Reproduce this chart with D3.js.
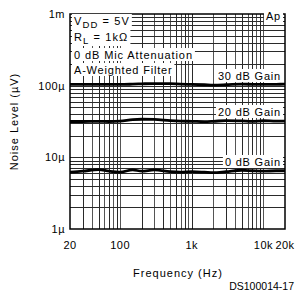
<!DOCTYPE html>
<html><head><meta charset="utf-8">
<script src="https://cdn.jsdelivr.net/npm/d3@7"></script>
<style>body{margin:0;background:#fff}svg{display:block}text{font-family:"Liberation Sans",Arial,sans-serif;fill:#000}</style>
</head><body><svg id="c" width="296" height="294"></svg>
<script>
const freqs = [20,30,50,70,100,150,200,300,500,700,1000,1500,2000,3000,5000,7000,10000,15000,20000];
const gain30 = [104e-6,104e-6,104.5e-6,104e-6,104e-6,105e-6,106e-6,107e-6,106.5e-6,105e-6,104e-6,103e-6,102e-6,103e-6,105e-6,104.5e-6,104e-6,104.5e-6,105e-6];
const gain20 = [31.6e-6,31.6e-6,31.8e-6,31.6e-6,32e-6,33.5e-6,34e-6,33.8e-6,32.5e-6,32e-6,31.8e-6,31.5e-6,31.8e-6,32.5e-6,32.2e-6,31.8e-6,32.4e-6,32e-6,32e-6];
const gain0 = [6.2e-6,6.4e-6,6.75e-6,6.4e-6,6.2e-6,6.7e-6,6.4e-6,6.7e-6,6.3e-6,6.2e-6,6.3e-6,6.2e-6,6.1e-6,6.3e-6,6.6e-6,6.5e-6,6.4e-6,6.5e-6,6.5e-6];
const xTicks = [20,100,1000,10000,20000];
const xTickLabels = ["20","100","1k","10k","20k"];
const yTicks = [1e-6,1e-5,1e-4,1e-3];
const yTickLabels = ["1\u00b5","10\u00b5","100\u00b5","1m"];
const seriesLabels = ["30 dB Gain","20 dB Gain","0 dB Gain"];
const notes = ["V_DD = 5V","R_L = 1k\u03a9","0 dB Mic Attenuation","A-Weighted Filter"];

const svg = d3.select("#c");
const L=70,R=285,T=14,B=229;
const x = d3.scaleLog().domain([20,20000]).range([L,R]);
const y = d3.scaleLog().domain([1e-6,1e-3]).range([B,T]);

// grid
const vgrid=[];
for(let d=10; d<=10000; d*=10) for(let m=1;m<10;m++){const v=d*m; if(v>20&&v<20000) vgrid.push(v);}
const hgrid=[];
for(let d=1e-6; d<1e-3*0.99; d*=10) for(let m=2;m<10;m++) hgrid.push(d*m);
hgrid.push(1e-5,1e-4);
const g=svg.append("g");
g.selectAll(".v").data(vgrid).join("line").attr("x1",d=>Math.round(x(d))+0.5).attr("x2",d=>Math.round(x(d))+0.5)
 .attr("y1",T).attr("y2",B).attr("stroke",(d,i)=>i%2?"#555":"#2a2a2a").attr("stroke-width",1);
g.selectAll(".h").data(hgrid).join("line").attr("y1",d=>Math.round(y(d))+0.5).attr("y2",d=>Math.round(y(d))+0.5)
 .attr("x1",L).attr("x2",R).attr("stroke","#2a2a2a").attr("stroke-width",1);

// series
const line=d3.line().x((d,i)=>x(freqs[i])).y(d=>y(d)).curve(d3.curveMonotoneX);
[gain30,gain20,gain0].forEach(s=>{
  svg.append("path").attr("d",line(s)).attr("fill","none").attr("stroke","#000").attr("stroke-width",2.8);
});

// frame
svg.append("rect").attr("x",L).attr("y",T).attr("width",R-L).attr("height",B-T).attr("fill","none").attr("stroke","#000").attr("stroke-width",1.5);

function boxText(tx,ty,str,anchor,sub,ls){
  const gg=svg.append("g");
  const t=gg.append("text").attr("x",tx).attr("y",ty).attr("font-size",11).attr("letter-spacing",ls).attr("text-anchor",anchor);
  if(sub){
    const parts=str.split("_");
    t.append("tspan").text(parts[0]);
    const rest=parts[1];
    const subTxt=rest.slice(0,rest.indexOf(" "));
    t.append("tspan").attr("dy",3).attr("font-size",9.5).text(subTxt);
    t.append("tspan").attr("dy",-3).text(rest.slice(rest.indexOf(" ")));
  } else t.text(str);
  const bb=t.node().getBBox();
  gg.insert("rect","text").attr("x",bb.x-2).attr("y",bb.y-1).attr("width",bb.width+4).attr("height",bb.height+1).attr("fill","#fff");
}
boxText(74,25,notes[0],"start",true,1.1);
boxText(74,41,notes[1],"start",true,1.1);
boxText(74,59,notes[2],"start",false,0.9);
boxText(74,74,notes[3],"start",false,0.8);
boxText(281,20,"Ap","end",false,0.8);
boxText(281,80,seriesLabels[0],"end",false,0.8);
boxText(281,116,seriesLabels[1],"end",false,0.8);
boxText(281,166,seriesLabels[2],"end",false,0.8);

// ticks
svg.selectAll(".xt").data(xTicks).join("text").attr("x",d=>x(d)).attr("y",249).attr("text-anchor","middle").attr("font-size",11).attr("letter-spacing",0.5).text((d,i)=>xTickLabels[i]);
svg.selectAll(".yt").data(yTicks).join("text").attr("x",65).attr("y",d=>y(d)+4).attr("text-anchor","end").attr("font-size",11).attr("letter-spacing",0.5).text((d,i)=>yTickLabels[i]);

svg.append("text").attr("transform",`translate(18,${(T+B)/2}) rotate(-90)`).attr("text-anchor","middle").attr("font-size",11).attr("letter-spacing",1).text("Noise Level (\u00b5V)");
svg.append("text").attr("x",178).attr("y",277).attr("text-anchor","middle").attr("font-size",11).attr("letter-spacing",1).text("Frequency (Hz)");
svg.append("text").attr("x",294).attr("y",290).attr("text-anchor","end").attr("font-size",10.5).attr("font-weight","normal").text("DS100014-17");
</script></body></html>
